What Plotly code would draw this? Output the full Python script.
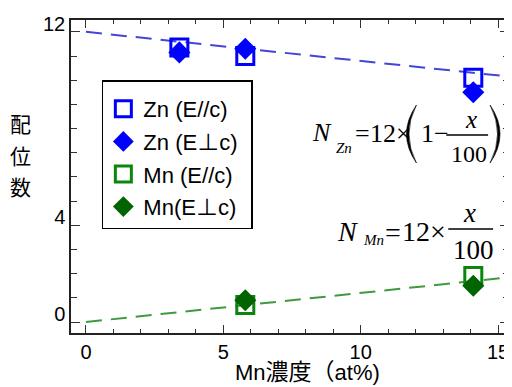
import plotly.graph_objects as go

# ---- data ----
mn_conc = [3.4, 5.8, 14.1]
zn_par = [11.35, 11.0, 10.1]      # Zn (E//c)
zn_perp = [11.15, 11.3, 9.5]      # Zn (E⊥c)
mn_conc2 = [5.8, 14.1]
mn_par = [0.7, 1.9]               # Mn (E//c)
mn_perp = [0.9, 1.5]              # Mn (E⊥c)
fit_x = [0, 15.4]
zn_fit = [12.0, 10.15]
mn_fit = [0.0, 1.85]
xticks = [0, 5, 10, 15]
yticks = [0, 4, 12]

# page body has an 8px margin: work in screen pixels, convert to figure pixels
OFF = 8
W, H = 512 - OFF, 387 - OFF
PL, PR, PT, PB = 71, 511, 20, 333          # plot box in screen pixels
L, T = PL - OFF, PT - OFF
R, B = W - (PR - OFF), H - (PB - OFF)
PW, PH = PR - PL, PB - PT


def px(x):
    return (x - PL) / PW


def py(y):
    return (PB - y) / PH


SANS = "Liberation Sans, Arial, Noto Sans CJK JP"
SERIF = "Liberation Serif, Times New Roman, serif"
CJK = "Noto Sans CJK JP"

fig = go.Figure()
fig.add_trace(go.Scatter(x=fit_x, y=zn_fit, mode="lines", showlegend=False,
                         line=dict(color="#4444d8", width=2, dash="16px,9px")))
fig.add_trace(go.Scatter(x=fit_x, y=mn_fit, mode="lines", showlegend=False,
                         line=dict(color="#3f9a3f", width=2, dash="16px,9px")))

NB = "\u00a0"
fig.add_trace(go.Scatter(x=mn_conc, y=zn_par, mode="markers", name="Zn (E//c)" + NB * 3,
                         legendgroup="a",
                         marker=dict(symbol="square-open", size=17, color="#0000ff",
                                     line=dict(width=3, color="#0000ff"))))
fig.add_trace(go.Scatter(x=mn_conc, y=zn_perp, mode="markers", name="Zn (E⊥c)",
                         legendgroup="b",
                         marker=dict(symbol="diamond", size=17, color="#0000ff")))
fig.add_trace(go.Scatter(x=mn_conc2, y=mn_par, mode="markers", name="Mn (E//c)",
                         legendgroup="c",
                         marker=dict(symbol="square-open", size=17, color="#0a870a",
                                     line=dict(width=3, color="#0a870a"))))
fig.add_trace(go.Scatter(x=mn_conc2, y=mn_perp, mode="markers", name="Mn(E⊥c)",
                         legendgroup="d",
                         marker=dict(symbol="diamond", size=17, color="#006400")))

ann = []


def text(t, x, y, size, family=SERIF, xa="left", ya="middle"):
    ann.append(dict(text=t, x=px(x), y=py(y), xref="paper", yref="paper",
                    xanchor=xa, yanchor=ya, showarrow=False,
                    font=dict(family=family, size=size, color="black")))


# y title
for ch, yy in zip("配位数", [123, 155, 186]):
    text(ch, 20, yy, 21, family=CJK, xa="center")

# x title
text("Mn<span style='font-family:Noto Sans CJK JP;font-size:23px'>濃度（</span>at%)",
     234, 370, 22, family=SANS)

# equation 1
text("<i>N</i>", 311, 132, 26)
text("<i>Zn</i>", 335, 148, 15)
text("=", 354, 133, 26)
text("12×", 369, 133, 26)
text("1−", 421, 133, 26)
text("<i>x</i>", 473, 119, 25, xa="center")
text("100", 471, 154, 24, xa="center")

# equation 2
text("<i>N</i>", 336, 231, 28)
text("<i>Mn</i>", 362, 240, 15)
text("=", 384, 232, 28)
text("12×", 401, 231, 28)
text("<i>x</i>", 471, 213, 27, xa="center")
text("100", 475, 250, 27, xa="center")

shapes = []


def hline(x0, x1, y):
    shapes.append(dict(type="line", xref="paper", yref="paper",
                       x0=px(x0), x1=px(x1), y0=py(y), y1=py(y),
                       line=dict(color="black", width=1.5)))


def paren(xt, ytop, ybot, xo, xi):
    ym = (ytop + ybot) / 2
    p = (f"M {px(xt)},{py(ytop)} Q {px(xo)},{py(ym)} {px(xt)},{py(ybot)} "
         f"Q {px(xi)},{py(ym)} {px(xt)},{py(ytop)} Z")
    shapes.append(dict(type="path", xref="paper", yref="paper", path=p,
                       fillcolor="black", line=dict(color="black", width=0.6)))


hline(448, 490, 135)
hline(450, 495, 229)
paren(418, 105, 163, 398, 403)
paren(492, 105, 163, 512, 507)

axis_common = dict(showline=True, linecolor="#222", linewidth=1.5, mirror="ticks",
                   ticks="inside", tickwidth=1.2, tickcolor="#333",
                   showgrid=False, zeroline=False,
                   tickfont=dict(family=SANS, size=20, color="black"))

fig.update_layout(
    width=W, height=H,
    margin=dict(l=L, r=R, t=T, b=B),
    paper_bgcolor="white", plot_bgcolor="white",
    xaxis=dict(range=[-0.545, 15.4], tickvals=xticks, ticklen=8,
               minor=dict(tickmode="linear", tick0=0, dtick=1, ticks="inside",
                          ticklen=4, tickcolor="#333"),
               **axis_common),
    yaxis=dict(range=[-0.455, 12.49], tickvals=yticks, ticklen=9,
               ticklabelshift=-8, ticklabelstandoff=0,
               minor=dict(tickmode="linear", tick0=0, dtick=1, ticks="inside",
                          ticklen=6, tickcolor="#333"),
               **axis_common),
    legend=dict(x=px(102), y=py(80), xanchor="left", yanchor="top",
                bgcolor="white", bordercolor="black", borderwidth=1.5,
                font=dict(family=SANS, size=22, color="black"),
                title=dict(text=NB, font=dict(size=5)),
                tracegroupgap=1, traceorder="grouped"),
    annotations=ann, shapes=shapes,
)

fig.write_html("out.html")
